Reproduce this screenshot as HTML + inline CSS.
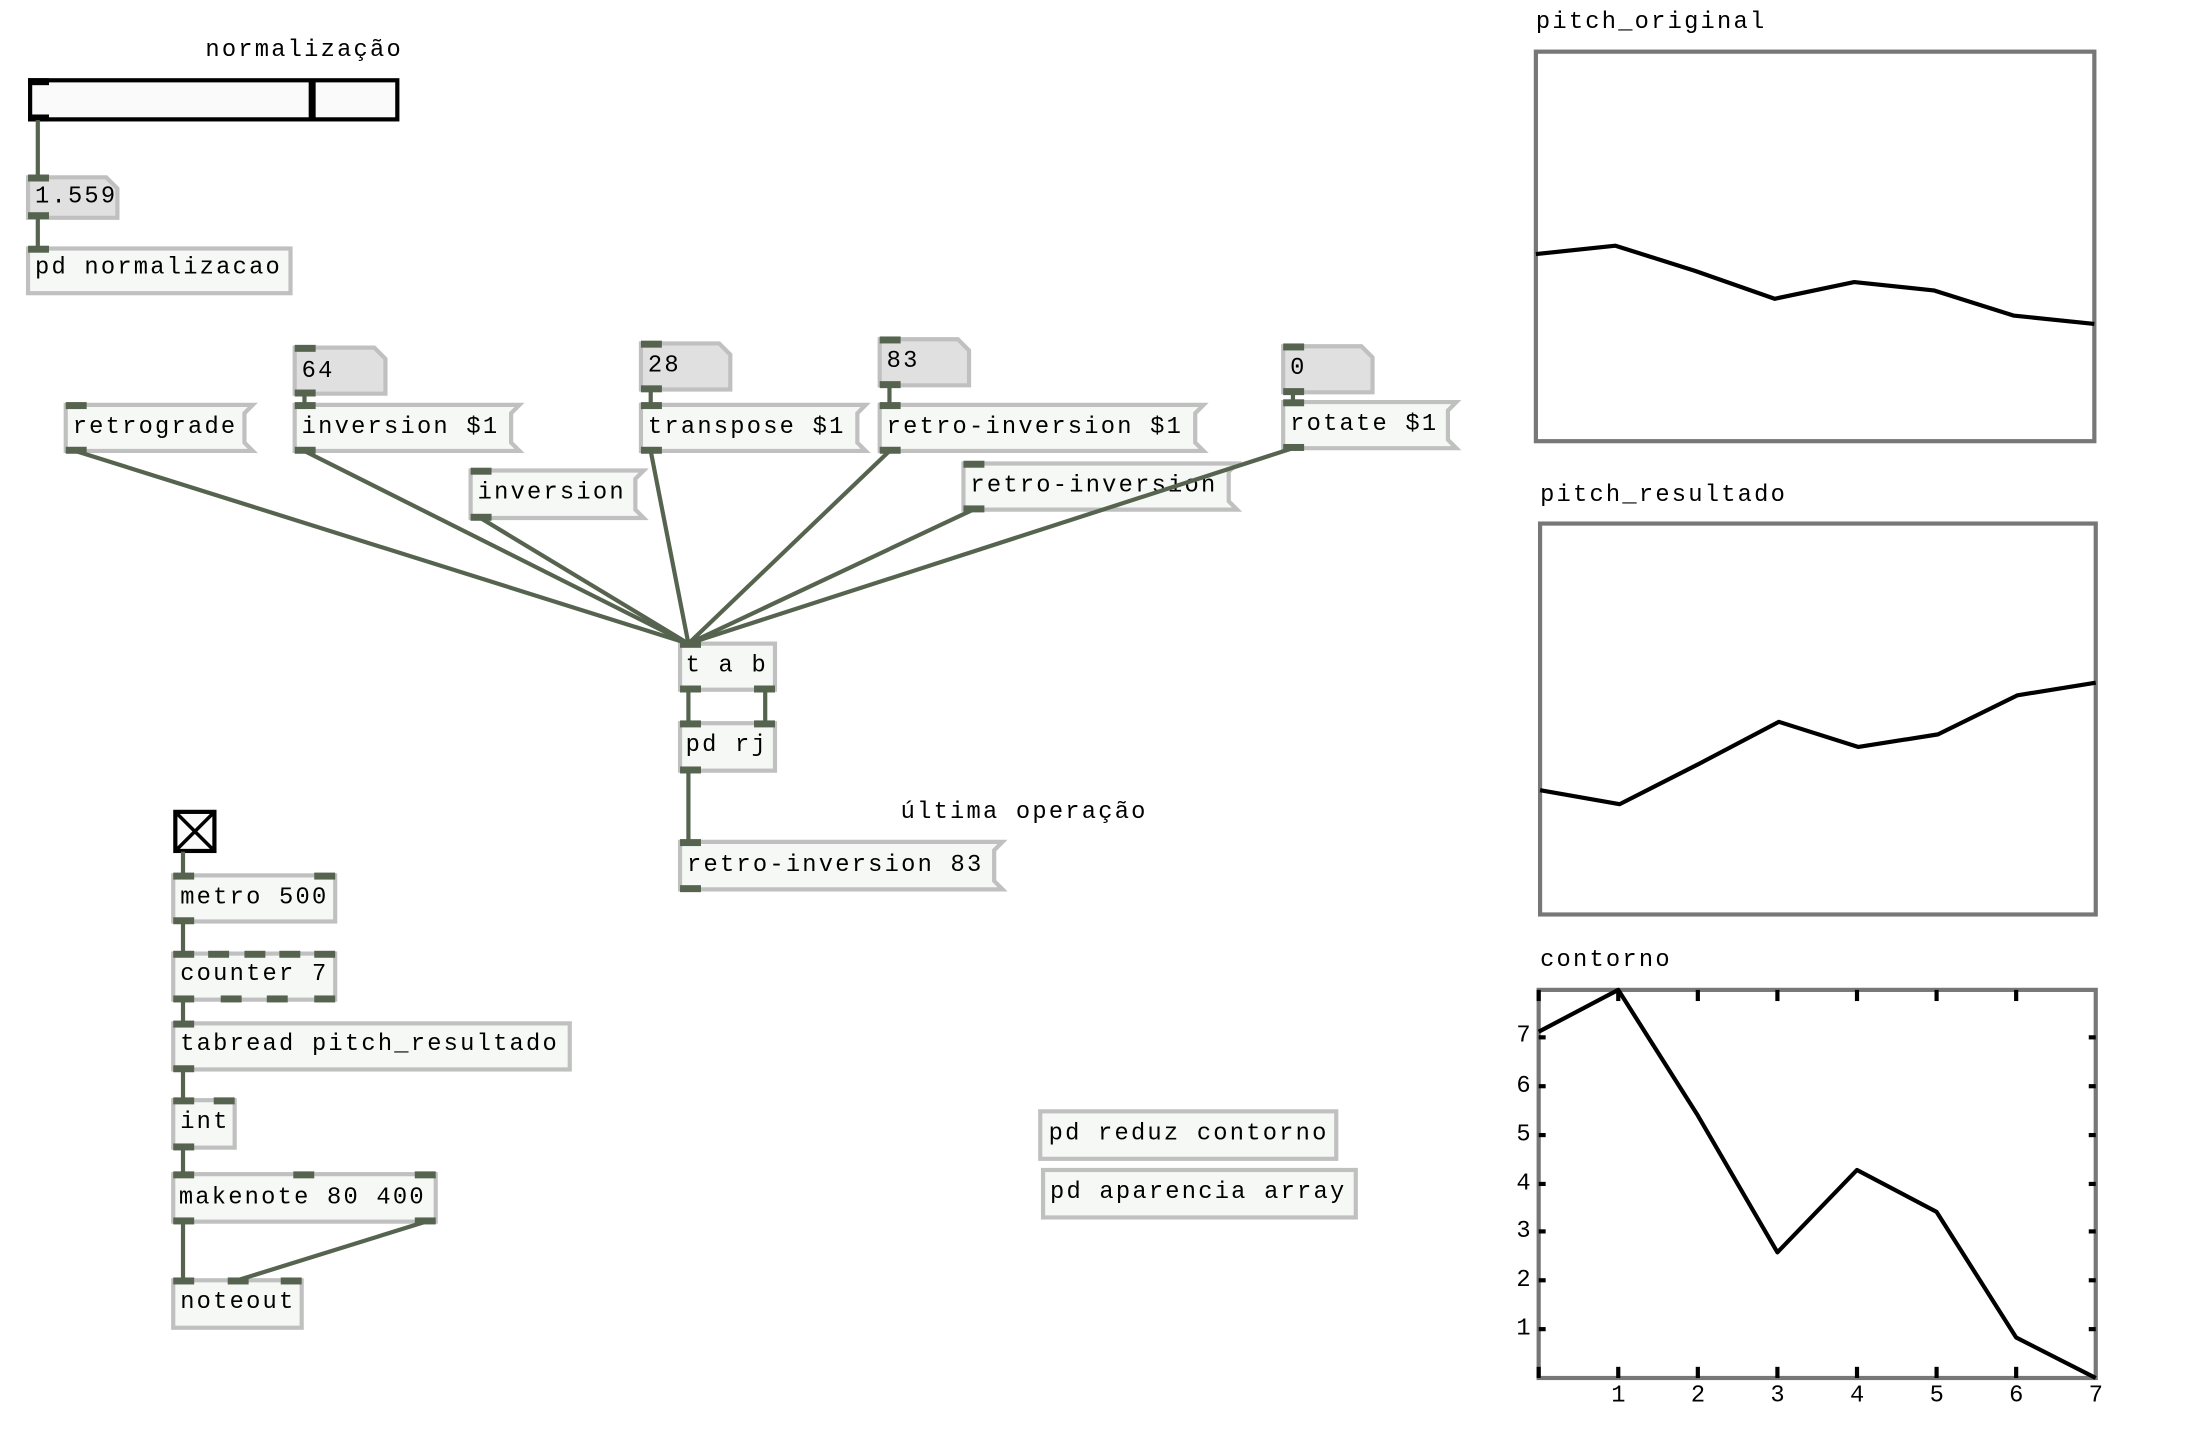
<!DOCTYPE html>
<html><head><meta charset="utf-8"><style>
html,body{margin:0;padding:0;background:#fff;}
svg{display:block;}
text{font-family:"Liberation Mono","DejaVu Sans Mono",monospace;font-size:17px;fill:#000;letter-spacing:1.6px;}
.o{fill:#f6f8f6;stroke:#c0c0c0;stroke-width:3;}
.n{fill:#e0e0e0;stroke:#c0c0c0;stroke-width:3;}
.p{fill:#55634f;}
.w{stroke:#55634f;stroke-width:3;fill:none;}
.g{fill:none;stroke:#777;stroke-width:3;}
.l{fill:none;stroke:#000;stroke-width:3;stroke-linejoin:round;}
.t{stroke:#000;stroke-width:3;}
.ax{font-size:15px;letter-spacing:0;}
</style></head><body>
<svg width="2188" height="1452" viewBox="0 0 1567 1040" xmlns="http://www.w3.org/2000/svg">
<!-- slider -->
<text x="147" y="40">normalização</text>
<rect x="21.5" y="57.5" width="263" height="28" fill="#fafafa" stroke="#000" stroke-width="3"/>
<rect x="221" y="58" width="5" height="27" fill="#000"/>
<rect x="20" y="56" width="15" height="5" fill="#000"/><rect x="20" y="82" width="15" height="5" fill="#000"/>
<!-- 1.559 -->
<polygon class="n" points="20,127 76,127 84,135 84,156 20,156"/>
<text x="25" y="145">1.559</text>
<rect class="o" x="20" y="178" width="188" height="32"/><text x="25" y="196">pd normalizacao</text>
<!-- number boxes -->
<polygon class="n" points="211,249 268,249 276,257 276,282 211,282"/><text x="216" y="270">64</text>
<polygon class="n" points="459,246 515,246 523,254 523,279 459,279"/><text x="464" y="266">28</text>
<polygon class="n" points="630,243 686,243 694,251 694,276 630,276"/><text x="635" y="263">83</text>
<polygon class="n" points="919,248 975,248 983,256 983,281 919,281"/><text x="924" y="268">0</text>
<!-- messages -->
<polygon class="o" points="47,290 181,290 175,296 175,317 181,323 47,323"/><text x="52" y="310">retrograde</text>
<polygon class="o" points="211,290 372,290 366,296 366,317 372,323 211,323"/><text x="216" y="310">inversion $1</text>
<polygon class="o" points="337,337 461,337 455,343 455,365 461,371 337,371"/><text x="342" y="357">inversion</text>
<polygon class="o" points="459,290 620,290 614,296 614,317 620,323 459,323"/><text x="464" y="310">transpose $1</text>
<polygon class="o" points="630,290 862,290 856,296 856,317 862,323 630,323"/><text x="635" y="310">retro-inversion $1</text>
<polygon class="o" points="690,332 886,332 880,338 880,359 886,365 690,365"/><text x="695" y="352">retro-inversion</text>
<polygon class="o" points="919,288 1043,288 1037,294 1037,315 1043,321 919,321"/><text x="924" y="308">rotate $1</text>
<!-- t a b / pd rj -->
<rect class="o" x="487" y="461" width="68" height="33"/><text x="491" y="481">t a b</text>
<rect class="o" x="487" y="518" width="68" height="34"/><text x="491" y="538">pd rj</text>
<text x="645" y="586">última operação</text>
<polygon class="o" points="487,603 718,603 712,609 712,631 718,637 487,637"/><text x="492" y="624">retro-inversion 83</text>
<!-- toggle chain -->
<rect x="125.5" y="581.5" width="28" height="28" fill="#fafafa" stroke="#000" stroke-width="3"/>
<line x1="127" y1="583" x2="152" y2="608" stroke="#000" stroke-width="2.5"/><line x1="152" y1="583" x2="127" y2="608" stroke="#000" stroke-width="2.5"/>
<rect class="o" x="124" y="627" width="116" height="33"/><text x="129" y="647">metro 500</text>
<rect class="o" x="124" y="683" width="116" height="33"/><text x="129" y="702">counter 7</text>
<rect class="o" x="124" y="733" width="284" height="33"/><text x="129" y="752">tabread pitch_resultado</text>
<rect class="o" x="124" y="788" width="44" height="34"/><text x="129" y="808">int</text>
<rect class="o" x="124" y="841" width="188" height="34"/><text x="128" y="862">makenote 80 400</text>
<rect class="o" x="124" y="917" width="92" height="34"/><text x="129" y="937">noteout</text>
<!-- pd subpatches -->
<rect class="o" x="745" y="796" width="212" height="34"/><text x="751" y="816">pd reduz contorno</text>
<rect class="o" x="747" y="838" width="224" height="34"/><text x="752" y="858">pd aparencia array</text>
<!-- wires -->
<g class="w">
<line x1="27" y1="86" x2="27" y2="127"/>
<line x1="27" y1="156" x2="27" y2="178"/>
<line x1="218" y1="282" x2="218" y2="290"/>
<line x1="466" y1="279" x2="466" y2="290"/>
<line x1="637" y1="276" x2="637" y2="290"/>
<line x1="926" y1="281" x2="926" y2="288"/>
<line x1="54" y1="323" x2="493" y2="461"/>
<line x1="218" y1="323" x2="493" y2="461"/>
<line x1="344" y1="371" x2="493" y2="461"/>
<line x1="466" y1="323" x2="493" y2="461"/>
<line x1="637" y1="323" x2="493" y2="461"/>
<line x1="697" y1="365" x2="493" y2="461"/>
<line x1="926" y1="321" x2="493" y2="461"/>
<line x1="493" y1="494" x2="493" y2="518"/>
<line x1="548" y1="494" x2="548" y2="518"/>
<line x1="493" y1="552" x2="493" y2="603"/>
<line x1="131" y1="610" x2="131" y2="627"/>
<line x1="131" y1="660" x2="131" y2="683"/>
<line x1="131" y1="716" x2="131" y2="733"/>
<line x1="131" y1="766" x2="131" y2="788"/>
<line x1="131" y1="822" x2="131" y2="841"/>
<line x1="131" y1="875" x2="131" y2="917"/>
<line x1="305" y1="875" x2="170" y2="917"/>
</g>
<!-- ports -->
<g class="p">
<rect x="20" y="125" width="15" height="5"/><rect x="20" y="152" width="15" height="5"/><rect x="20" y="176" width="15" height="5"/>
<rect x="211" y="247" width="15" height="5"/><rect x="211" y="279" width="15" height="5"/>
<rect x="459" y="244" width="15" height="5"/><rect x="459" y="276" width="15" height="5"/>
<rect x="630" y="241" width="15" height="5"/><rect x="630" y="273" width="15" height="5"/>
<rect x="919" y="246" width="15" height="5"/><rect x="919" y="278" width="15" height="5"/>
<rect x="47" y="288" width="15" height="5"/><rect x="47" y="320" width="15" height="5"/>
<rect x="211" y="288" width="15" height="5"/><rect x="211" y="320" width="15" height="5"/>
<rect x="337" y="335" width="15" height="5"/><rect x="337" y="368" width="15" height="5"/>
<rect x="459" y="288" width="15" height="5"/><rect x="459" y="320" width="15" height="5"/>
<rect x="630" y="288" width="15" height="5"/><rect x="630" y="320" width="15" height="5"/>
<rect x="690" y="330" width="15" height="5"/><rect x="690" y="362" width="15" height="5"/>
<rect x="919" y="286" width="15" height="5"/><rect x="919" y="318" width="15" height="5"/>
<rect x="487" y="459" width="15" height="5"/><rect x="487" y="491" width="15" height="5"/><rect x="540" y="491" width="15" height="5"/>
<rect x="487" y="516" width="15" height="5"/><rect x="540" y="516" width="15" height="5"/><rect x="487" y="549" width="15" height="5"/>
<rect x="487" y="601" width="15" height="5"/><rect x="487" y="634" width="15" height="5"/>
<rect x="124" y="625" width="15" height="5"/><rect x="225" y="625" width="15" height="5"/><rect x="124" y="657" width="15" height="5"/>
<rect x="124" y="681" width="15" height="5"/><rect x="149" y="681" width="15" height="5"/><rect x="175" y="681" width="15" height="5"/><rect x="200" y="681" width="15" height="5"/><rect x="225" y="681" width="15" height="5"/>
<rect x="124" y="713" width="15" height="5"/><rect x="158" y="713" width="15" height="5"/><rect x="191" y="713" width="15" height="5"/><rect x="225" y="713" width="15" height="5"/>
<rect x="124" y="731" width="15" height="5"/><rect x="124" y="763" width="15" height="5"/>
<rect x="124" y="786" width="15" height="5"/><rect x="153" y="786" width="15" height="5"/><rect x="124" y="819" width="15" height="5"/>
<rect x="124" y="839" width="15" height="5"/><rect x="210" y="839" width="15" height="5"/><rect x="297" y="839" width="15" height="5"/>
<rect x="124" y="872" width="15" height="5"/><rect x="297" y="872" width="15" height="5"/>
<rect x="124" y="915" width="15" height="5"/><rect x="163" y="915" width="15" height="5"/><rect x="201" y="915" width="15" height="5"/>
</g>
<!-- graphs -->
<text x="1100" y="20">pitch_original</text>
<rect class="g" x="1100" y="37" width="400" height="279"/>
<polyline class="l" points="1100,182 1157,176 1214,194 1271,214 1328,202 1385,208 1442,226 1500,232"/>
<text x="1103" y="359">pitch_resultado</text>
<rect class="g" x="1103" y="375" width="398" height="280"/>
<polyline class="l" points="1103,566 1160,576 1217,547 1274,517 1331,535 1388,526 1445,498 1501,489"/>
<text x="1103" y="692">contorno</text>
<rect class="g" x="1102" y="709" width="399" height="278"/>
<g class="t">
<line x1="1102" y1="709" x2="1102" y2="717"/><line x1="1159" y1="709" x2="1159" y2="717"/><line x1="1216" y1="709" x2="1216" y2="717"/><line x1="1273" y1="709" x2="1273" y2="717"/><line x1="1330" y1="709" x2="1330" y2="717"/><line x1="1387" y1="709" x2="1387" y2="717"/><line x1="1444" y1="709" x2="1444" y2="717"/>
<line x1="1102" y1="979" x2="1102" y2="987"/><line x1="1159" y1="979" x2="1159" y2="987"/><line x1="1216" y1="979" x2="1216" y2="987"/><line x1="1273" y1="979" x2="1273" y2="987"/><line x1="1330" y1="979" x2="1330" y2="987"/><line x1="1387" y1="979" x2="1387" y2="987"/><line x1="1444" y1="979" x2="1444" y2="987"/>
<line x1="1102" y1="952" x2="1107" y2="952"/><line x1="1102" y1="917" x2="1107" y2="917"/><line x1="1102" y1="882" x2="1107" y2="882"/><line x1="1102" y1="848" x2="1107" y2="848"/><line x1="1102" y1="813" x2="1107" y2="813"/><line x1="1102" y1="778" x2="1107" y2="778"/><line x1="1102" y1="743" x2="1107" y2="743"/>
<line x1="1496" y1="952" x2="1501" y2="952"/><line x1="1496" y1="917" x2="1501" y2="917"/><line x1="1496" y1="882" x2="1501" y2="882"/><line x1="1496" y1="848" x2="1501" y2="848"/><line x1="1496" y1="813" x2="1501" y2="813"/><line x1="1496" y1="778" x2="1501" y2="778"/><line x1="1496" y1="743" x2="1501" y2="743"/>
</g>
<polyline class="l" points="1102,739 1159,709 1216,799 1273,897 1330,838 1387,868 1444,958 1501,987"/>
<g class="ax">
<text x="1086" y="746">7</text><text x="1086" y="782">6</text><text x="1086" y="817">5</text><text x="1086" y="852">4</text><text x="1086" y="886">3</text><text x="1086" y="921">2</text><text x="1086" y="956">1</text>
<text x="1154" y="1004">1</text><text x="1211" y="1004">2</text><text x="1268" y="1004">3</text><text x="1325" y="1004">4</text><text x="1382" y="1004">5</text><text x="1439" y="1004">6</text><text x="1496" y="1004">7</text>
</g>
</svg>
</body></html>
